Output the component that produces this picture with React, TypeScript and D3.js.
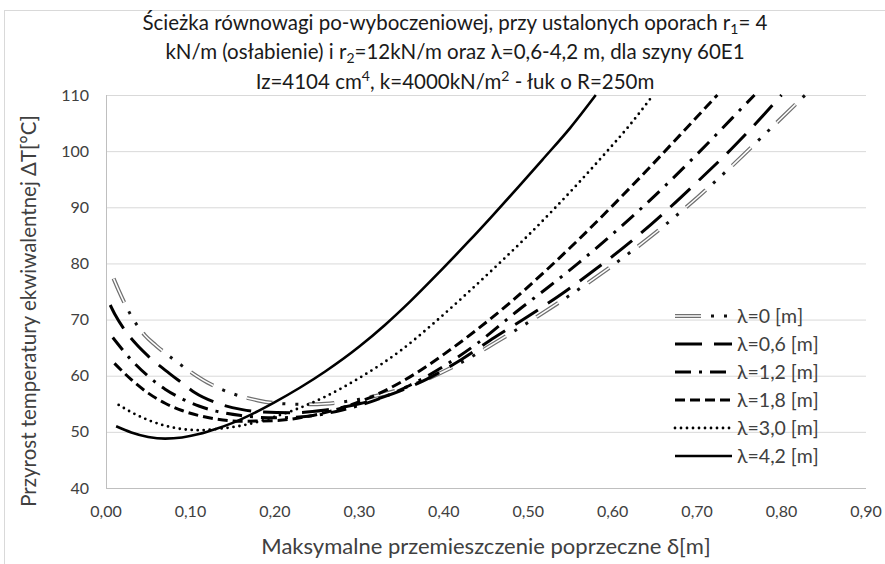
import React from "react";
import * as d3 from "d3";

// δ [m] / ΔT [°C], one pair of arrays per λ
const dL0 = [0.009, 0.015, 0.029, 0.046, 0.059, 0.08, 0.1, 0.12, 0.15, 0.18, 0.21, 0.24, 0.26, 0.3, 0.34, 0.38, 0.42, 0.46, 0.5, 0.54, 0.58, 0.62, 0.66, 0.7, 0.74, 0.78, 0.828];
const tL0 = [77.3, 75.2, 70.9, 67.2, 65.4, 62.9, 60.7, 58.8, 56.8, 55.6, 55.0, 54.9, 55.0, 55.8, 57.2, 59.4, 62.3, 65.8, 69.5, 73.4, 77.5, 81.9, 86.6, 91.7, 97.2, 103.0, 110];

const dL06 = [0.005, 0.011, 0.02, 0.036, 0.05, 0.07, 0.09, 0.105, 0.13, 0.16, 0.18, 0.22, 0.26, 0.3, 0.34, 0.38, 0.42, 0.46, 0.5, 0.54, 0.58, 0.62, 0.66, 0.7, 0.74, 0.77, 0.8];
const tL06 = [72.6, 70.8, 68.6, 65.6, 63.5, 61.0, 58.7, 57.0, 55.2, 54.0, 53.6, 53.4, 53.9, 55.0, 56.8, 59.4, 62.8, 66.8, 70.6, 74.6, 79.0, 83.7, 88.9, 94.5, 100.3, 105.0, 110];

const dL12 = [0.008, 0.03, 0.05, 0.07, 0.09, 0.11, 0.13, 0.16, 0.2, 0.24, 0.28, 0.32, 0.36, 0.4, 0.44, 0.486, 0.524, 0.559, 0.595, 0.628, 0.662, 0.693, 0.725, 0.757, 0.768];
const tL12 = [66.8, 62.8, 59.9, 57.6, 55.9, 54.6, 53.7, 52.9, 52.5, 52.8, 53.9, 55.7, 58.3, 61.7, 65.8, 71.4, 75.8, 80.0, 84.6, 89.0, 93.8, 98.4, 103.3, 108.3, 110];

const dL18 = [0.01, 0.03, 0.05, 0.07, 0.09, 0.11, 0.13, 0.16, 0.2, 0.24, 0.28, 0.32, 0.36, 0.4, 0.44, 0.48, 0.52, 0.56, 0.6, 0.64, 0.68, 0.724];
const tL18 = [62.2, 59.3, 56.9, 55.1, 53.8, 52.9, 52.3, 51.9, 52.0, 52.8, 54.3, 56.6, 59.8, 63.8, 68.3, 73.2, 78.6, 84.3, 90.3, 96.5, 102.9, 110];

const dL30 = [0.015, 0.03, 0.05, 0.07, 0.09, 0.11, 0.13, 0.16, 0.2, 0.23, 0.26, 0.3, 0.35, 0.39, 0.43, 0.467, 0.5, 0.53, 0.56, 0.59, 0.62, 0.648];
const tL30 = [54.8, 53.5, 52.1, 51.1, 50.5, 50.3, 50.5, 51.1, 52.7, 54.3, 56.3, 59.6, 64.6, 69.6, 75.0, 80.2, 85.0, 89.6, 94.4, 99.4, 104.6, 110];

const dL42 = [0.012, 0.03, 0.05, 0.07, 0.09, 0.11, 0.13, 0.15, 0.18, 0.2, 0.23, 0.26, 0.3, 0.33, 0.36, 0.395, 0.43, 0.457, 0.49, 0.517, 0.55, 0.58];
const tL42 = [51.0, 49.9, 49.1, 48.8, 49.0, 49.6, 50.5, 51.6, 53.7, 55.3, 57.9, 60.8, 65.2, 69.0, 73.2, 78.5, 84.0, 88.4, 93.9, 98.5, 104.2, 110];

const legendLabels = ["λ=0 [m]", "λ=0,6 [m]", "λ=1,2 [m]", "λ=1,8 [m]", "λ=3,0 [m]", "λ=4,2 [m]"];
const xTicks = [0, 0.1, 0.2, 0.3, 0.4, 0.5, 0.6, 0.7, 0.8, 0.9];
const yTicks = [40, 50, 60, 70, 80, 90, 100, 110];

const W = 885;
const H = 564;
const margin = { top: 95, right: 19, bottom: 76, left: 106 };
const FONT = "Lato, 'Open Sans', sans-serif";

type Style = { dash?: string; width: number; cap?: "butt" | "round"; double?: boolean };

// line look per series, same order as legendLabels
const styles: Style[] = [
  { double: true, width: 4 },
  { dash: "27 12", width: 3 },
  { dash: "16 8 3 8", width: 3 },
  { dash: "10 5", width: 3 },
  { dash: "0 6", width: 2.8, cap: "round" },
  { width: 2.6 },
];

const App = () => {
  const x = d3.scaleLinear().domain([0, 0.9]).range([margin.left, W - margin.right]);
  const y = d3.scaleLinear().domain([40, 110]).range([H - margin.bottom, margin.top]);

  const series = [
    [dL0, tL0],
    [dL06, tL06],
    [dL12, tL12],
    [dL18, tL18],
    [dL30, tL30],
    [dL42, tL42],
  ].map(([ds, ts]) => ds.map((d, i) => [d, ts[i]] as [number, number]));

  const line = d3
    .line<[number, number]>()
    .x((p) => x(p[0]))
    .y((p) => y(p[1]))
    .curve(d3.curveMonotoneX);

  const drawPath = (d: string, s: Style, key: string) => {
    if (s.double) {
      return (
        <g key={key}>
          <path d={d} fill="none" stroke="#707070" strokeWidth={4} strokeDasharray="26 36" />
          <path d={d} fill="none" stroke="#ffffff" strokeWidth={1.5} strokeDasharray="26 36" />
          <path d={d} fill="none" stroke="#111" strokeWidth={3} strokeDasharray="0 36 3 10 3 10" />
        </g>
      );
    }
    return (
      <path
        key={key}
        d={d}
        fill="none"
        stroke="#000"
        strokeWidth={s.width}
        strokeDasharray={s.dash}
        strokeLinecap={s.cap || "butt"}
      />
    );
  };

  const legendX = 675;
  const legendY0 = 316;
  const legendStep = 28;

  return (
    <svg width={W} height={H} style={{ position: "absolute", left: 0, top: 0, background: "#fff" }}>
      {/* chart area border */}
      <rect x={4.5} y={10.5} width={1000} height={1000} fill="none" stroke="#d9d9d9" />

      {/* title */}
      <text x={455} textAnchor="middle" fontFamily={FONT} fontSize={20.5} fill="#1a1a1a">
        <tspan x={455} y={30}>
          Ścieżka równowagi po-wyboczeniowej, przy ustalonych oporach r
          <tspan fontSize={14} dy={4}>1</tspan>
          <tspan dy={-4}>= 4</tspan>
        </tspan>
        <tspan x={455} y={59}>
          kN/m (osłabienie) i r
          <tspan fontSize={14} dy={4}>2</tspan>
          <tspan dy={-4}>=12kN/m oraz λ=0,6-4,2 m, dla szyny 60E1</tspan>
        </tspan>
        <tspan x={455} y={89}>
          Iz=4104 cm
          <tspan fontSize={14} dy={-8}>4</tspan>
          <tspan dy={8}>, k=4000kN/m</tspan>
          <tspan fontSize={14} dy={-8}>2</tspan>
          <tspan dy={8}> -  łuk o R=250m</tspan>
        </tspan>
      </text>

      {/* grid */}
      {yTicks.map((t) => (
        <line key={t} x1={margin.left} x2={W - margin.right} y1={y(t) + 0.5} y2={y(t) + 0.5}
          stroke={t === 40 ? "#bfbfbf" : "#d9d9d9"} />
      ))}
      <line x1={margin.left + 0.5} x2={margin.left + 0.5} y1={y(110)} y2={y(40)} stroke="#bfbfbf" />

      {/* ticks */}
      {yTicks.map((t) => (
        <text key={t} x={89} y={y(t)} dy="0.35em" textAnchor="end" fontFamily={FONT} fontSize={16} fill="#404040">
          {t}
        </text>
      ))}
      {xTicks.map((t) => (
        <text key={t} x={x(t)} y={517} textAnchor="middle" fontFamily={FONT} fontSize={16} fill="#404040">
          {d3.format(".2f")(t).replace(".", ",")}
        </text>
      ))}

      {/* axis titles */}
      <text x={486} y={554} textAnchor="middle" fontFamily={FONT} fontSize={22} fill="#404040">
        Maksymalne przemieszczenie poprzeczne δ[m]
      </text>
      <text transform="translate(36,311) rotate(-90)" textAnchor="middle"
        fontFamily={FONT} fontSize={20.5} fill="#404040">
        Przyrost temperatury ekwiwalentnej ΔT[°C]
      </text>

      {/* curves */}
      {series.map((pts, i) => drawPath(line(pts) || "", styles[i], "s" + i))}

      {/* legend */}
      {legendLabels.map((lab, i) => {
        const ly = legendY0 + i * legendStep;
        return (
          <g key={lab}>
            {drawPath(`M${legendX},${ly}L${legendX + 57},${ly}`, styles[i], "l" + i)}
            <text x={legendX + 62} y={ly} dy="0.35em" fontFamily={FONT} fontSize={19.5} fill="#404040">
              {lab}
            </text>
          </g>
        );
      })}
    </svg>
  );
};

export default App;
